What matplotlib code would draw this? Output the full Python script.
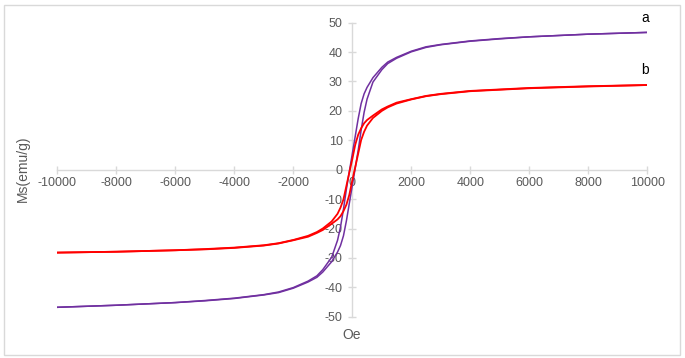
import matplotlib
matplotlib.use("Agg")
import matplotlib.pyplot as plt
from matplotlib.patches import Rectangle

plt.rcParams['font.family'] = ['Liberation Sans', 'DejaVu Sans']
plt.rcParams['axes.unicode_minus'] = False

# Field (Oe)
H = [-10000, -8000, -6000, -5000, -4000, -3000, -2500, -2000, -1500, -1200, -1000,
     -700, -500, -400, -300, -200, -100, 0, 100, 200, 300, 400, 500, 700, 1000,
     1200, 1500, 2000, 2500, 3000, 4000, 5000, 6000, 8000, 10000]

# Sample a (purple): descending and ascending branches (emu/g)
a_desc = [-46.8, -46.1, -45.2, -44.5, -43.7, -42.5, -41.6, -40.1, -37.9, -36.1, -34.0,
          -29.8, -24.0, -19.5, -13.5, -6.6, -0.6, 5.4, 11.4, 17.4, 22.5, 25.8, 28.0,
          31.3, 34.8, 36.6, 38.2, 40.3, 41.8, 42.6, 43.8, 44.6, 45.2, 46.1, 46.7]
a_asc = [-46.8, -46.1, -45.2, -44.6, -43.8, -42.6, -41.8, -40.3, -38.2, -36.6, -34.8,
         -31.3, -28.0, -25.8, -22.5, -17.4, -11.4, -5.4, 0.6, 6.6, 13.5, 19.5, 24.0,
         29.8, 34.0, 36.1, 37.9, 40.1, 41.6, 42.5, 43.7, 44.5, 45.2, 46.1, 46.7]

# Sample b (red): descending and ascending branches (emu/g)
b_desc = [-28.2, -27.9, -27.4, -27.0, -26.5, -25.7, -25.0, -23.9, -22.5, -21.2, -20.0,
          -17.6, -15.0, -12.9, -10.1, -5.5, -0.9, 3.6, 8.5, 11.9, 14.1, 15.8, 16.9,
          18.4, 20.5, 21.5, 22.8, 24.0, 25.1, 25.8, 26.8, 27.3, 27.8, 28.4, 28.8]
b_asc = [-28.2, -27.9, -27.4, -27.1, -26.6, -25.8, -25.1, -24.0, -22.8, -21.5, -20.5,
         -18.4, -16.9, -15.8, -14.1, -11.9, -8.5, -3.6, 0.9, 5.5, 10.1, 12.9, 15.0,
         17.6, 20.0, 21.2, 22.5, 23.9, 25.0, 25.7, 26.7, 27.2, 27.7, 28.3, 28.8]

x_ticks = list(range(-10000, 10001, 2000))
y_ticks = list(range(-50, 51, 10))

PURPLE = '#7030A0'
RED = '#FF0000'
GRID = '#d9d9d9'
TXT = '#595959'

fig = plt.figure(figsize=(6.85, 3.58), dpi=100)
fig.patches.append(Rectangle((4 / 685, 3 / 358), 676 / 685, 350 / 358,
                             transform=fig.transFigure, fill=False,
                             edgecolor=GRID, linewidth=1.0))
ax = fig.add_axes([57.3 / 685, 41.3 / 358, 590 / 685, 294 / 358])

ax.plot(H, a_desc, color=PURPLE, lw=1.1)
ax.plot(H, a_asc, color=PURPLE, lw=1.1)
ax.plot(H, b_desc, color=RED, lw=1.3)
ax.plot(H, b_asc, color=RED, lw=1.3)

ax.set_xlim(-10000, 10000)
ax.set_ylim(-50, 50)
ax.set_xticks(x_ticks)
ax.set_yticks(y_ticks)

for s in ['top', 'right']:
    ax.spines[s].set_visible(False)
ax.spines['left'].set_position(('data', 0))
ax.spines['bottom'].set_position(('data', 0))
for s in ['left', 'bottom']:
    ax.spines[s].set_color(GRID)
    ax.spines[s].set_linewidth(1.0)
    ax.spines[s].set_zorder(0)
ax.tick_params(axis='both', direction='inout', length=6, width=1.0, color=GRID,
               labelcolor=TXT, labelsize=9)
ax.tick_params(axis='x', pad=2)
ax.tick_params(axis='y', pad=4)

fig.text(23 / 685, 1 - 169 / 358, 'Ms(emu/g)', rotation=90, ha='center', va='center',
         color=TXT, fontsize=10)
fig.text(352 / 685, 1 - 335 / 358, 'Oe', ha='center', va='center', color=TXT, fontsize=10)

ax.text(9920, 51.5, 'a', ha='center', va='center', fontsize=10, color='black', clip_on=False)
ax.text(9920, 33.8, 'b', ha='center', va='center', fontsize=10, color='black', clip_on=False)

fig.savefig('out.png', dpi=100)
